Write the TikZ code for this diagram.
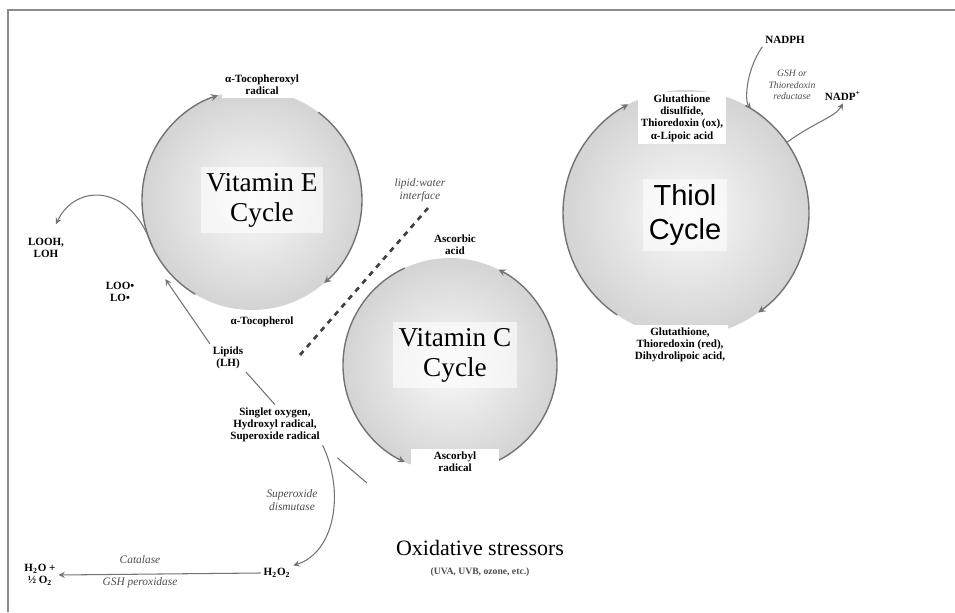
\documentclass[tikz,border=0pt]{standalone}
\usepackage{fontspec}
\setmainfont{Liberation Serif}
\newfontfamily\thiolfont{Liberation Sans}
\tikzset{
  lbl/.style={font=\fontsize{6.3}{7}\selectfont\bfseries, align=center, fill=white, inner sep=1.5pt},
  enz/.style={font=\fontsize{6.5}{7.5}\selectfont\itshape, align=center, text=black!70},
  cyc/.style={font=\fontsize{15.5}{17}\selectfont, align=center, fill=white, fill opacity=0.6, text opacity=1},
  ring/.style={draw=black!55, line width=0.8pt},
  link/.style={draw=black!55, line width=0.6pt},
}
\begin{document}
\begin{tikzpicture}[x=0.02cm,y=0.02cm,>=stealth]
    \useasboundingbox (0,0) rectangle (955,612);
    \coordinate (E) at (252,412);
    \coordinate (C) at (450,247);
    \coordinate (T) at (686,399);

    % frame
    \draw[black!45, line width=1.2pt] (8,0) -- (8,602) -- (955,602);

    \shade[inner color=black!2, outer color=black!17] (E) circle (110);
    \shade[inner color=black!2, outer color=black!17] (C) circle (107);
    \shade[inner color=black!2, outer color=black!17] (T) circle (123);

    % cycle arcs
    \draw[ring,->] ([shift={(239:110)}]E) arc[start angle=239, end angle=108, radius=110];
    \draw[ring,->] ([shift={(53:110)}]E) arc[start angle=53, end angle=-49, radius=110];
    \draw[ring,->] ([shift={(115:107)}]C) arc[start angle=115, end angle=245, radius=107];
    \draw[ring,->] ([shift={(-63:107)}]C) arc[start angle=-63, end angle=63, radius=107];
    \draw[ring,->] ([shift={(236:123)}]T) arc[start angle=236, end angle=118, radius=123];
    \draw[ring,->] ([shift={(61:123)}]T) arc[start angle=61, end angle=-54, radius=123];

    \node[cyc] (vitE) at (262,412) {Vitamin E\\Cycle};
    \node[cyc] (vitC) at (455,257) {Vitamin C\\Cycle};
    \node[cyc, font=\thiolfont\fontsize{16.5}{19}\selectfont] (thiol) at (685,397) {Thiol\\Cycle};

    \node[lbl] (tocrad) at (262,527) {α-Tocopheroxyl\\radical};
    \node[lbl, minimum width=70pt] (toc) at (262,290) {α-Tocopherol};
    \node[lbl, minimum width=45pt] (asc) at (455,367) {Ascorbic\\acid};
    \node[lbl, minimum width=50pt] (ascrad) at (455,150) {Ascorbyl\\radical};
    \node[lbl] (gssg) at (682,494) {Glutathione\\disulfide,\\Thioredoxin (ox),\\α-Lipoic acid};
    \node[lbl] (gsh) at (680,267) {Glutathione,\\Thioredoxin (red),\\Dihydrolipoic acid,};
    \node[lbl] (nadph) at (785,572) {NADPH};
    \node[enz, font=\fontsize{5.5}{6.5}\selectfont\itshape] (red) at (792,527) {GSH or\\Thioredoxin\\reductase};
    \node[lbl] (nadp) at (843,516) {NADP\textsuperscript{+}};
    \node[lbl] (looh) at (46,364) {LOOH,\\LOH};
    \node[lbl] (loo) at (120,320) {LOO\textbullet\\LO\textbullet};
    \node[lbl] (lipids) at (228,254) {Lipids\\(LH)};
    \node[lbl] (ros) at (275,187) {Singlet oxygen,\\Hydroxyl radical,\\Superoxide radical};
    \node[enz] (sod) at (292,112) {Superoxide\\dismutase};
    \node[lbl] (hoo) at (277,39) {H\textsubscript{2}O\textsubscript{2}};
    \node[lbl] (water) at (40,37) {H\textsubscript{2}O +\\½ O\textsubscript{2}};
    \node[enz] (cat) at (140,52) {Catalase};
    \node[enz] (gpx) at (140,29) {GSH peroxidase};
    \node[font=\fontsize{12.5}{14}\selectfont] (stress) at (480,64) {Oxidative stressors};
    \node[font=\fontsize{5.5}{6}\selectfont\bfseries, text=black!70] (stressex) at (480,40) {(UVA, UVB, ozone, etc.)};
    \node[enz] (lw) at (420,422) {lipid:water\\interface};

    % side reactions
    \coordinate (loopout) at ([shift={(205:110)}]E);
    \draw[link,->] (loopout) .. controls (130,430) and (75,428) .. ([shift={(10,11)}]looh.north);
    \draw[link,->] (lipids.north west) -- ([xshift=16]loo.north east);
    \draw[link] (ros.north) -- (lipids.south east);
    \draw[black!75, dashed, line width=1.5pt] (300,257) -- (428,404);
    \draw[link,->] (nadph.south west) .. controls (745,540) and (745,510) .. ([shift={(58:123)}]T);
    \draw[link,->] ([shift={(35:123)}]T) .. controls (815,490) and (835,495) .. (nadp.south);
    \draw[link,->] (ros.south east) .. controls (345,120) and (335,60) .. (hoo.north east);
    \draw[link,->] (hoo.west) -- (water.east);
    \coordinate (hit) at (367,129);
    \draw[link, shorten >=11pt] (hit) -- (ros.south east);
\end{tikzpicture}
\end{document}
